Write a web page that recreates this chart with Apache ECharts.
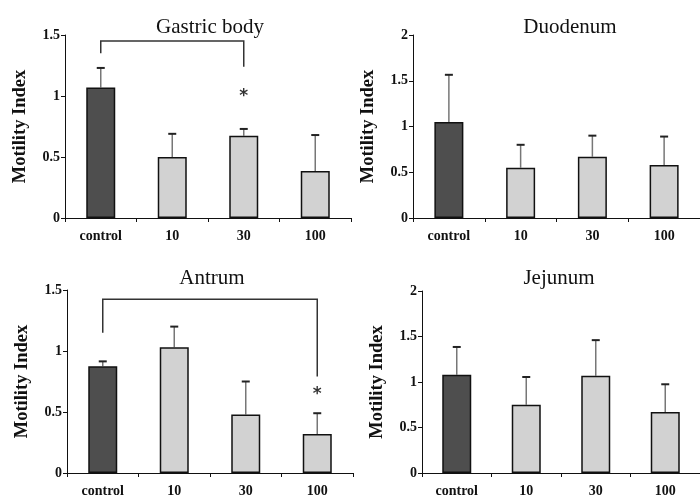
<!DOCTYPE html>
<html>
<head>
<meta charset="utf-8">
<script src="https://cdn.jsdelivr.net/npm/echarts@6/dist/echarts.min.js"></script>
<style>html,body{margin:0;padding:0;background:#fff}#c{width:700px;height:500px}</style>
</head>
<body>
<div id="c"></div>
<script>
// ---- data ----
var categories = ['control', '10', '30', '100'];
var panelTitles = ['Gastric body', 'Duodenum', 'Antrum', 'Jejunum'];
var yMax = [1.5, 2, 1.5, 2];
var gastricMean = [1.07, 0.50, 0.675, 0.385];
var gastricErrTop = [1.23, 0.69, 0.73, 0.68];
var duodenumMean = [1.05, 0.55, 0.67, 0.58];
var duodenumErrTop = [1.565, 0.80, 0.90, 0.89];
var antrumMean = [0.875, 1.03, 0.48, 0.32];
var antrumErrTop = [0.915, 1.20, 0.75, 0.49];
var jejunumMean = [1.08, 0.75, 1.07, 0.67];
var jejunumErrTop = [1.385, 1.055, 1.46, 0.975];
// brackets: [fromCategory, toCategory, topValue, leftEndValue, rightEndValue]
var gastricBracket = [0, 2, 1.45, 1.35, 1.24];
var antrumBracket = [0, 3, 1.425, 1.15, 0.79];
// asterisks: [category, value]
var gastricStar = [2, 1.02];
var antrumStar = [3, 0.665];

var means = [gastricMean, duodenumMean, antrumMean, jejunumMean];
var errTops = [gastricErrTop, duodenumErrTop, antrumErrTop, jejunumErrTop];
var brackets = [gastricBracket, null, antrumBracket, null];
var stars = [gastricStar, null, antrumStar, null];

var FONT = '"Liberation Serif", "DejaVu Serif", serif';
var grids = [
  {left: 65, top: 35, width: 286, height: 183},
  {left: 413, top: 35, width: 287, height: 183},
  {left: 67, top: 290, width: 286, height: 183},
  {left: 422, top: 291, width: 286, height: 182}
];
var titleCenters = [[205, 12], [565, 12], [207, 263], [554, 263]];

var option = {
  animation: false,
  backgroundColor: '#fff',
  title: panelTitles.map(function (t, i) {
    return {text: t, left: titleCenters[i][0], top: titleCenters[i][1], textAlign: 'center',
      textStyle: {fontFamily: FONT, fontSize: 21, fontWeight: 'normal', color: '#111'}};
  }),
  grid: grids.map(function (g) { return Object.assign({containLabel: false}, g); }),
  xAxis: grids.map(function (g, i) {
    return {type: 'category', gridIndex: i, data: categories, boundaryGap: true,
      axisLine: {lineStyle: {color: '#111', width: 1}},
      axisTick: {show: true, length: 4, alignWithLabel: false, lineStyle: {color: '#111'}},
      axisLabel: {interval: 0, margin: 11, fontFamily: FONT, fontSize: 14, fontWeight: 'bold', color: '#111'},
      splitLine: {show: false}};
  }),
  yAxis: grids.map(function (g, i) {
    return {type: 'value', gridIndex: i, min: 0, max: yMax[i], interval: 0.5,
      name: 'Motility Index', nameLocation: 'middle', nameGap: 35,
      nameTextStyle: {fontFamily: FONT, fontSize: 18.5, fontWeight: 'bold', color: '#111'},
      axisLine: {show: true, lineStyle: {color: '#111', width: 1}},
      axisTick: {show: true, length: 4, lineStyle: {color: '#111'}},
      axisLabel: {margin: 5, fontFamily: FONT, fontSize: 14, fontWeight: 'bold', color: '#111'},
      splitLine: {show: false}};
  }),
  series: []
};

means.forEach(function (m, i) {
  option.series.push({
    type: 'bar', xAxisIndex: i, yAxisIndex: i, barWidth: 29,
    data: m.map(function (v, k) {
      return {value: v, itemStyle: {color: k === 0 ? '#4e4e4e' : '#d2d2d2', borderColor: '#111', borderWidth: 1.5}};
    }),
    z: 3
  });
  var tops = errTops[i];
  option.series.push({
    type: 'custom', xAxisIndex: i, yAxisIndex: i, z: 2,
    data: m.map(function (v, k) { return [k, v, tops[k]]; }),
    renderItem: function (params, api) {
      var p0 = api.coord([api.value(0), api.value(1)]);
      var p1 = api.coord([api.value(0), api.value(2)]);
      return {type: 'group', children: [
        {type: 'line', shape: {x1: p0[0], y1: p0[1], x2: p1[0], y2: p1[1]}, style: {stroke: '#777', lineWidth: 1.5}},
        {type: 'line', shape: {x1: p1[0] - 4, y1: p1[1], x2: p1[0] + 4, y2: p1[1]}, style: {stroke: '#222', lineWidth: 2}}
      ]};
    }
  });
  var b = brackets[i];
  if (b) {
    option.series.push({
      type: 'custom', xAxisIndex: i, yAxisIndex: i, z: 4,
      data: [b],
      renderItem: function (params, api) {
        var a = api.coord([api.value(0), api.value(3)]);
        var t1 = api.coord([api.value(0), api.value(2)]);
        var t2 = api.coord([api.value(1), api.value(2)]);
        var c = api.coord([api.value(1), api.value(4)]);
        return {type: 'polyline', shape: {points: [a, t1, t2, c]}, style: {stroke: '#333', lineWidth: 1.5, fill: null}};
      }
    });
  }
  var s = stars[i];
  if (s) {
    option.series.push({
      type: 'scatter', xAxisIndex: i, yAxisIndex: i, z: 5, symbolSize: 0,
      data: [s],
      label: {show: true, position: 'inside', offset: [0, 3], formatter: '*', fontFamily: '"DejaVu Sans", sans-serif', fontSize: 17, fontWeight: 'bold', color: '#000'}
    });
  }
});

var chart = echarts.init(document.getElementById('c'), null, {renderer: 'canvas'});
chart.setOption(option);
</script>
</body>
</html>
